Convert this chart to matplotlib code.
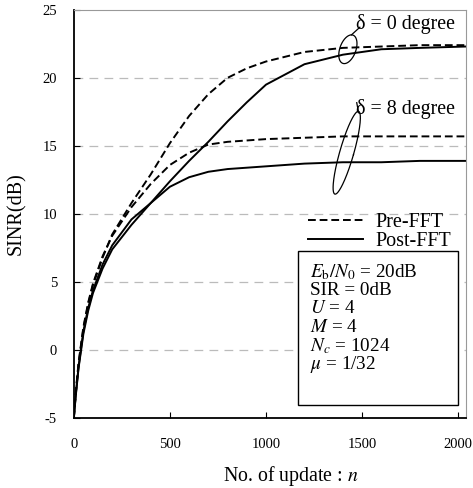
import numpy as np
import matplotlib.pyplot as plt
from matplotlib.patches import Rectangle

plt.rcParams['font.family'] = ['Liberation Serif', 'DejaVu Serif']
plt.rcParams['mathtext.fontset'] = 'stix'
plt.rcParams['axes.unicode_minus'] = False

# number of updates and SINR (dB)
n = [0, 10, 25, 50, 75, 100, 150, 200, 300, 400, 500, 600, 700, 800,
     900, 1000, 1200, 1400, 1600, 1800, 2040]
pre_0 = [-5, -3.2, -1.0, 1.6, 3.4, 4.8, 6.8, 8.5, 10.8, 12.9, 15.2, 17.2,
         18.8, 20.0, 20.7, 21.2, 21.9, 22.2, 22.3, 22.4, 22.4]
post_0 = [-5, -3.4, -1.3, 1.2, 2.9, 4.2, 6.0, 7.4, 9.2, 10.8, 12.4, 13.9,
          15.3, 16.8, 18.2, 19.5, 21.0, 21.7, 22.1, 22.2, 22.3]
pre_8 = [-5, -3.1, -0.9, 1.7, 3.5, 4.9, 6.9, 8.4, 10.5, 12.2, 13.6, 14.5,
         15.1, 15.3, 15.4, 15.5, 15.6, 15.7, 15.7, 15.7, 15.7]
post_8 = [-5, -3.3, -1.2, 1.4, 3.1, 4.4, 6.3, 7.7, 9.6, 10.8, 12.0, 12.7,
          13.1, 13.3, 13.4, 13.5, 13.7, 13.8, 13.8, 13.9, 13.9]

params = [r'$E_{\rm b}/N_0$ = 20dB', 'SIR = 0dB', r'$U$ = 4', r'$M$ = 4',
          r'$N_c$ = 1024', r'$\mu$ = 1/32']

fig = plt.figure(figsize=(4.73, 4.88), dpi=100)
ax = fig.add_axes([0.156, 0.143, 0.829, 0.837])

ax.plot(n, pre_0, 'k--', lw=1.4, dashes=(4, 2), label='Pre-FFT')
ax.plot(n, post_0, 'k-', lw=1.4, label='Post-FFT')
ax.plot(n, pre_8, 'k--', lw=1.4, dashes=(4, 2))
ax.plot(n, post_8, 'k-', lw=1.4)

ax.set_xlim(0, 2040)
ax.set_ylim(-5, 25)
ax.set_xticks([0, 500, 1000, 1500, 2000])
ax.set_yticks([-5, 0, 5, 10, 15, 20, 25])
ax.tick_params(axis='x', direction='in', length=4, labelsize=10.5, pad=14)
ax.tick_params(axis='y', direction='in', length=4, labelsize=10.5, pad=12)
for y in [0, 5, 10, 15, 20]:
    ax.axhline(y, color='#bbbbbb', lw=0.9, ls=(0, (7, 5)), zorder=0)

ax.spines['left'].set_linewidth(1.3)
ax.spines['bottom'].set_linewidth(1.3)
ax.spines['top'].set_color('#999999')
ax.spines['right'].set_color('#999999')

ax.set_ylabel('SINR(dB)', fontsize=14.5)
ax.yaxis.set_label_coords(-0.122, 0.5)
ax.set_xlabel('No. of update : $n$', fontsize=14.3)
ax.xaxis.set_label_coords(0.554, -0.113)

# the loops marking each pair of curves (pixel-sized, converted to data)
sx = 2040 / 392.0
sy = 30 / 408.0
def loop(cx, cy, a, b, ang, tail):
    t = np.linspace(0, 2 * np.pi, 200)
    px = a * np.cos(t)
    py = b * np.sin(t)
    r = np.deg2rad(ang)
    qx = px * np.cos(r) - py * np.sin(r)
    qy = px * np.sin(r) + py * np.cos(r)
    ax.plot(cx + qx * sx, cy + qy * sy, 'k-', lw=0.9)
    top = np.argmax(qy)
    ax.plot([cx + qx[top] * sx, cx + tail[0] * sx],
            [cy + qy[top] * sy, cy + tail[1] * sy], 'k-', lw=0.9)

loop(1426, 22.1, 8, 15, -20, (12, 22))
loop(1420, 14.5, 7, 43, -16, (10, 50))

ax.text(1470, 23.95, '\u03b4 = 0 degree', fontsize=14.4, va='center')
ax.text(1470, 17.7, '\u03b4 = 8 degree', fontsize=14.4, va='center')

ax.legend(loc='upper right', bbox_to_anchor=(0.972, 0.513), frameon=False,
          fontsize=14.5, handlelength=2.75, labelspacing=0.0, borderpad=0.2,
          handletextpad=0.6, borderaxespad=0)

ax.add_patch(Rectangle((0.571, 0.032), 0.409, 0.377, transform=ax.transAxes,
                       fill=True, facecolor='white', edgecolor='black',
                       lw=1.0, zorder=5))
for i, s in enumerate(params):
    ax.text(0.602, 0.358 - i * 0.0452, s, transform=ax.transAxes,
            fontsize=13.8, va='center', zorder=6)

fig.savefig('out.png', dpi=100)
